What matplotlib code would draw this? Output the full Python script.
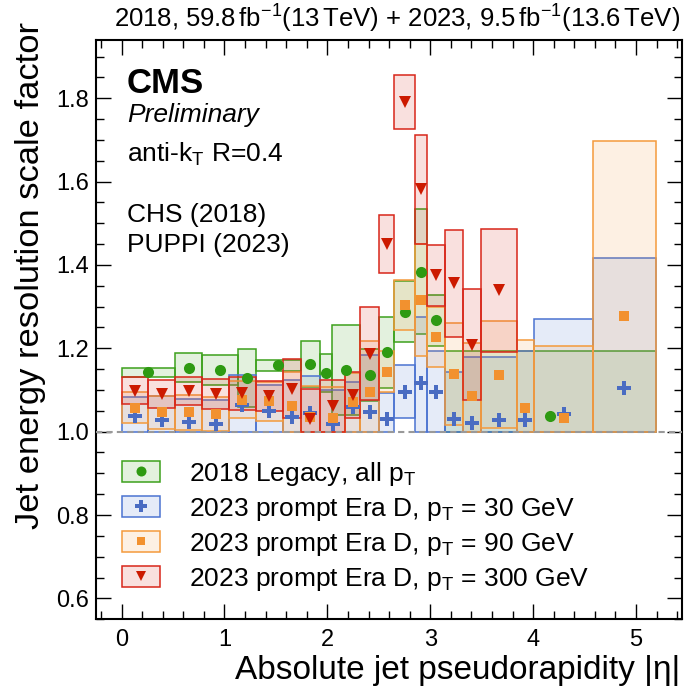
import matplotlib
matplotlib.use('Agg')
import matplotlib.pyplot as plt
import numpy as np
from matplotlib.patches import Patch
from matplotlib.lines import Line2D
from matplotlib.ticker import MultipleLocator

plt.rcParams['font.family'] = ['Liberation Sans', 'DejaVu Sans']
plt.rcParams['mathtext.fontset'] = 'custom'
plt.rcParams['mathtext.rm'] = 'Liberation Sans'
plt.rcParams['mathtext.it'] = 'Liberation Sans:italic'
plt.rcParams['mathtext.bf'] = 'Liberation Sans:bold'

# eta bin edges
edges_2018 = [0.0, 0.522, 0.783, 1.131, 1.305, 1.740, 1.930, 2.043, 2.322, 2.5,
              2.65, 2.853, 2.964, 3.139, 5.191]
edges_2023 = [0.0, 0.261, 0.522, 0.783, 1.044, 1.305, 1.566, 1.740, 1.930, 2.172,
              2.322, 2.5, 2.65, 2.853, 2.964, 3.139, 3.314, 3.489, 3.839, 4.013,
              4.583, 5.191]

# 2018 legacy, all pT
sf_2018 = [1.142, 1.153, 1.148, 1.129, 1.159, 1.163, 1.141, 1.148, 1.136, 1.190,
           1.288, 1.384, 1.267, 1.038]
err_2018 = [0.011, 0.035, 0.036, 0.070, 0.013, 0.055, 0.046, 0.108, 0.063, 0.085,
            0.073, 0.150, 0.061, 0.156]

# 2023 era D, pT = 30 GeV
sf_pt30 = [1.038, 1.028, 1.022, 1.018, 1.065, 1.050, 1.036, 1.044, 1.018, 1.058,
           1.046, 1.030, 1.096, 1.117, 1.096, 1.030, 1.020, 1.028, 1.028, 1.042,
           1.105]
err_pt30 = [0.044, 0.057, 0.056, 0.058, 0.070, 0.062, 0.088, 0.089, 0.082, 0.060,
            0.139, 0.063, 0.064, 0.157, 0.098, 0.114, 0.160, 0.152, 0.165, 0.229,
            0.312]

# 2023 era D, pT = 90 GeV
sf_pt90 = [1.057, 1.046, 1.046, 1.042, 1.077, 1.073, 1.062, 1.034, 1.032, 1.070,
           1.096, 1.144, 1.303, 1.316, 1.226, 1.139, 1.086, 1.137, 1.057, 1.032,
           1.278]
err_pt90 = [0.037, 0.040, 0.041, 0.040, 0.044, 0.047, 0.080, 0.076, 0.074, 0.070,
            0.122, 0.050, 0.060, 0.134, 0.072, 0.122, 0.126, 0.128, 0.164, 0.174,
            0.420]

# 2023 era D, pT = 300 GeV (no bins beyond 3.839)
sf_pt300 = [1.098, 1.090, 1.098, 1.090, 1.092, 1.086, 1.103, 1.030, 1.061, 1.087,
            1.187, 1.450, 1.791, 1.582, 1.375, 1.356, 1.209, 1.339]
err_pt300 = [0.032, 0.034, 0.033, 0.036, 0.039, 0.036, 0.071, 0.073, 0.063, 0.055,
             0.112, 0.070, 0.065, 0.131, 0.074, 0.128, 0.133, 0.147]

labels = [r'2018 Legacy, all p$_\mathrm{T}$',
          r'2023 prompt Era D, p$_\mathrm{T}$ = 30 GeV',
          r'2023 prompt Era D, p$_\mathrm{T}$ = 90 GeV',
          r'2023 prompt Era D, p$_\mathrm{T}$ = 300 GeV']


def draw_series(ax, edges, values, errors, color, edge, marker, ms):
    values = np.asarray(values)
    errors = np.asarray(errors)
    n = len(values)
    edges = np.asarray(edges)[:n + 1]
    # boxes are cut at SF = 1
    lo = np.maximum(values - errors, 1.0)
    hi = values + errors
    ax.bar(edges[:-1], hi - lo, width=np.diff(edges), bottom=lo, align='edge',
           facecolor=matplotlib.colors.to_rgba(edge, 0.14), edgecolor=edge,
           linewidth=1.1)
    centers = 0.5 * (edges[:-1] + edges[1:])
    ax.plot(centers, values, linestyle='none', marker=marker, color=color,
            markersize=ms, markeredgewidth=0)
    handle = (Patch(facecolor=matplotlib.colors.to_rgba(edge, 0.14), edgecolor=edge,
                    linewidth=1.1),
              Line2D([], [], linestyle='none', marker=marker, color=color,
                     markersize=ms * 0.9, markeredgewidth=0))
    return handle


fig = plt.figure(figsize=(6.85, 6.88), dpi=100)
ax = fig.add_axes([0.140, 0.100, 0.856, 0.842])

handles = []
handles.append(draw_series(ax, edges_2018, sf_2018, err_2018, '#2e9a12', '#3da11c', 'o', 8))
handles.append(draw_series(ax, edges_2023, sf_pt30, err_pt30, '#4a6cc2', '#4b73d1', 'P', 10))
handles.append(draw_series(ax, edges_2023, sf_pt90, err_pt90, '#f2912f', '#f49a3c', 's', 7))
handles.append(draw_series(ax, edges_2023, sf_pt300, err_pt300, '#cc1a00', '#d8261a', 'v', 8.5))

ax.axhline(1.0, color='#999999', linestyle=(0, (3, 2)), linewidth=1.5, zorder=5)

ax.set_xlim(-0.25, 5.45)
ax.set_ylim(0.55, 1.94)

# ticks (inward, all sides)
ax.xaxis.set_major_locator(MultipleLocator(1))
ax.xaxis.set_minor_locator(MultipleLocator(0.2))
ax.yaxis.set_major_locator(MultipleLocator(0.2))
ax.yaxis.set_minor_locator(MultipleLocator(0.05))
ax.tick_params(which='both', direction='in', top=True, right=True, labelsize=17)
ax.tick_params(which='major', length=11, width=1)
ax.tick_params(which='minor', length=5.5, width=1)
ax.tick_params(axis='x', pad=7)
ax.tick_params(axis='y', pad=5)
for s in ax.spines.values():
    s.set_linewidth(1.5)

ax.set_xlabel('Absolute jet pseudorapidity |η|', fontsize=24, loc='right')
ax.xaxis.set_label_coords(0.997, -0.062)
ax.set_ylabel('Jet energy resolution scale factor', fontsize=24.8, loc='top')
ax.yaxis.set_label_coords(-0.085, 1.031)

# text block
ax.text(0.053, 0.909, 'CMS', transform=ax.transAxes, fontsize=25, fontweight='bold')
ax.text(0.053, 0.858, 'Preliminary', transform=ax.transAxes, fontsize=19, style='italic')
ax.text(0.053, 0.790, r'anti-k$_\mathrm{T}$ R=0.4', transform=ax.transAxes, fontsize=19)
ax.text(0.053, 0.686, 'CHS (2018)', transform=ax.transAxes, fontsize=19)
ax.text(0.053, 0.634, 'PUPPI (2023)', transform=ax.transAxes, fontsize=19)
ax.text(0.997, 1.021,
        r'2018, 59.8$\,$fb$^{-1}$(13$\,$TeV) + 2023, 9.5$\,$fb$^{-1}$(13.6$\,$TeV)',
        transform=ax.transAxes, fontsize=18.5, ha='right')

ax.legend(handles, labels, loc='upper left', bbox_to_anchor=(0.044, 0.275),
          frameon=False, fontsize=19, handlelength=1.45, handleheight=0.85,
          handletextpad=1.1, labelspacing=0.3, borderaxespad=0, borderpad=0)

fig.savefig('out.png', dpi=100)
